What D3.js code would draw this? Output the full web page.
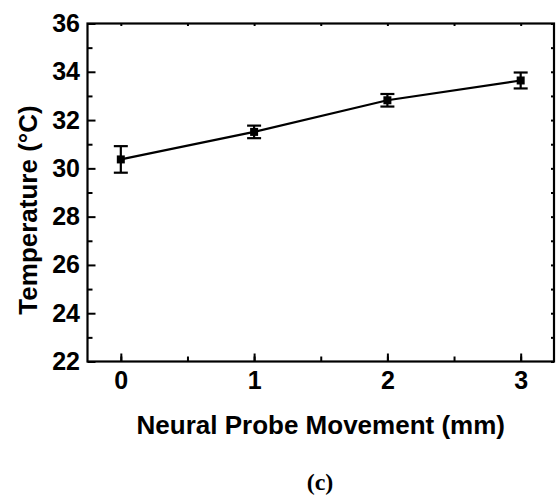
<!DOCTYPE html>
<html>
<head>
<meta charset="utf-8">
<script src="https://cdn.jsdelivr.net/npm/d3@7"></script>
<style>
  html, body { margin: 0; padding: 0; background: #fff; }
  svg { display: block; }
  .tick text { font-family: "Liberation Sans", Arial, sans-serif; font-weight: bold; font-size: 25px; fill: #000; }
</style>
</head>
<body>
<svg id="chart" width="558" height="495"></svg>
<script>
// ---- data ----
const movement = [0, 1, 2, 3];                      // mm
const temperature = [30.37, 31.51, 32.82, 33.64];   // °C
const errorBars = [0.55, 0.26, 0.26, 0.33];         // ± °C
const xTickValues = [0, 1, 2, 3];
const yTickValues = [22, 24, 26, 28, 30, 32, 34, 36];
const xLabel = "Neural Probe Movement (mm)";
const yLabel = "Temperature (°C)";
const panelLabel = "(c)";

// ---- layout ----
const svg = d3.select("#chart");
const L = 87.5, R = 554, T = 23.5, B = 361.5;
const x = d3.scaleLinear().domain([-0.25, 3.25]).range([L, R]);
const y = d3.scaleLinear().domain([22, 36]).range([B, T]);

function styleAxis(g) {
  g.select(".domain").remove();
  g.selectAll(".tick line").attr("stroke", "#000").attr("stroke-width", 2);
}

// minor ticks
svg.append("g").attr("transform", `translate(0,${B})`)
  .call(d3.axisBottom(x).tickValues(d3.range(0, 3.01, 0.5)).tickSize(-5).tickFormat(""))
  .call(styleAxis);
svg.append("g").attr("transform", `translate(${L},0)`)
  .call(d3.axisLeft(y).tickValues(d3.range(23, 36, 2)).tickSize(-5).tickFormat(""))
  .call(styleAxis);
// mirror ticks top/right
svg.append("g").attr("transform", `translate(0,${T})`)
  .call(d3.axisTop(x).tickValues(d3.range(0, 3.01, 0.5)).tickSize(-2.5).tickFormat(""))
  .call(styleAxis);
svg.append("g").attr("transform", `translate(${R},0)`)
  .call(d3.axisRight(y).tickValues(d3.range(22, 36.01, 1)).tickSize(-3).tickFormat(""))
  .call(styleAxis);

// major ticks with labels
svg.append("g").attr("transform", `translate(0,${B})`)
  .call(d3.axisBottom(x).tickValues(xTickValues).tickSize(-8).tickPadding(10).tickFormat(d3.format("d")))
  .call(styleAxis);
svg.append("g").attr("transform", `translate(${L},0)`)
  .call(d3.axisLeft(y).tickValues(yTickValues).tickSize(-8).tickPadding(7.5).tickFormat(d3.format("d")))
  .call(styleAxis);

// frame
svg.append("rect").attr("x", L).attr("y", T).attr("width", R - L).attr("height", B - T)
  .attr("fill", "none").attr("stroke", "#000").attr("stroke-width", 2.2);

const pts = movement.map((m, i) => ({ x: m, y: temperature[i], e: errorBars[i] }));

// line
svg.append("path").datum(pts)
  .attr("fill", "none").attr("stroke", "#000").attr("stroke-width", 2.2)
  .attr("d", d3.line().x(d => x(d.x)).y(d => y(d.y)));

// error bars
const eb = svg.append("g").attr("stroke", "#000").attr("stroke-width", 2.2);
pts.forEach(d => {
  const cx = x(d.x);
  eb.append("line").attr("x1", cx).attr("x2", cx).attr("y1", y(d.y - d.e)).attr("y2", y(d.y + d.e));
  eb.append("line").attr("x1", cx - 7).attr("x2", cx + 7).attr("y1", y(d.y - d.e)).attr("y2", y(d.y - d.e));
  eb.append("line").attr("x1", cx - 7).attr("x2", cx + 7).attr("y1", y(d.y + d.e)).attr("y2", y(d.y + d.e));
});

// markers
svg.append("g").selectAll("rect").data(pts).join("rect")
  .attr("x", d => x(d.x) - 4).attr("y", d => y(d.y) - 4)
  .attr("width", 8).attr("height", 8).attr("fill", "#000");

// axis titles
svg.append("text").attr("x", (L + R) / 2).attr("y", 434)
  .attr("text-anchor", "middle")
  .style("font-family", '"Liberation Sans", Arial, sans-serif').style("font-weight", "bold").style("font-size", "26px")
  .text(xLabel);
svg.append("text").attr("transform", "translate(37,210) rotate(-90)")
  .attr("text-anchor", "middle")
  .style("font-family", '"Liberation Sans", Arial, sans-serif').style("font-weight", "bold").style("font-size", "26px")
  .text(yLabel);
svg.append("text").attr("x", 320).attr("y", 490)
  .attr("text-anchor", "middle")
  .style("font-family", '"Liberation Serif", "Times New Roman", serif').style("font-weight", "bold").style("font-size", "24px")
  .text(panelLabel);
</script>
</body>
</html>
